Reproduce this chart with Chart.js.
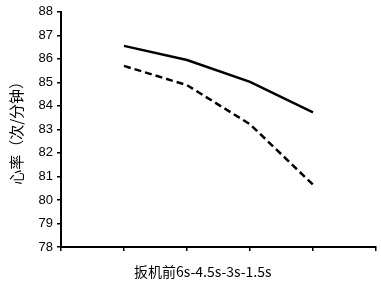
<!DOCTYPE html>
<html><head><meta charset="utf-8">
<script src="https://cdn.jsdelivr.net/npm/chart.js@4/dist/chart.umd.min.js"></script>
<style>html,body{margin:0;padding:0;background:#fff;}#wrap{width:381px;height:283px;}</style>
</head><body><div id="wrap"><canvas id="c" width="381" height="283"></canvas></div>
<script>
const xPositions = [1, 2, 3, 4];
const solidSeries = [86.55, 85.95, 85.02, 83.72];
const dashedSeries = [85.7, 84.88, 83.22, 80.65];
const xTitle = '扳机前6s-4.5s-3s-1.5s';
const yTitle = '心率（次/分钟）';
const yMin = 78, yMax = 88;

const toPts = arr => arr.map((v, i) => ({x: xPositions[i], y: v}));

const xTitlePlugin = {
  id: 'xTitle',
  afterDraw(chart) {
    const {ctx, chartArea} = chart;
    ctx.save();
    ctx.fillStyle = '#000';
    ctx.font = '14px "Noto Sans CJK SC"';
    ctx.textAlign = 'center';
    ctx.textBaseline = 'middle';
    const cx = chartArea.left + (chartArea.right - chartArea.left) * 0.45;
    ctx.fillText(xTitle, cx, chartArea.bottom + 25);
    ctx.restore();
  }
};

new Chart(document.getElementById('c'), {
  type: 'line',
  data: {
    datasets: [
      {data: toPts(solidSeries), borderColor: '#000', borderWidth: 2.5, pointRadius: 0, tension: 0, fill: false},
      {data: toPts(dashedSeries), borderColor: '#000', borderWidth: 2.5, borderDash: [7, 4], pointRadius: 0, tension: 0, fill: false}
    ]
  },
  options: {
    responsive: false,
    animation: false,
    layout: {padding: {top: 11, right: 5, left: 0, bottom: 0}},
    plugins: {legend: {display: false}, tooltip: {enabled: false}},
    scales: {
      x: {
        type: 'linear', min: 0, max: 5,
        ticks: {display: false, stepSize: 1},
        grid: {drawOnChartArea: false, drawTicks: true, tickLength: 4, color: '#000', lineWidth: 1.5},
        border: {color: '#000', width: 2},
        afterFit(s) { s.height = 36; }
      },
      y: {
        min: yMin, max: yMax,
        ticks: {stepSize: 1, color: '#000', padding: 4, font: {family: '"Liberation Sans", Arial', size: 13}},
        grid: {drawOnChartArea: false, drawTicks: true, tickLength: 4, color: '#000', lineWidth: 1.5},
        border: {color: '#000', width: 2},
        title: {display: true, text: yTitle, color: '#000', padding: {top: 7, bottom: 0}, font: {family: '"Noto Sans CJK SC"', size: 15}},
        afterFit(s) { s.width = 61; }
      }
    }
  },
  plugins: [xTitlePlugin]
});
</script></body></html>
